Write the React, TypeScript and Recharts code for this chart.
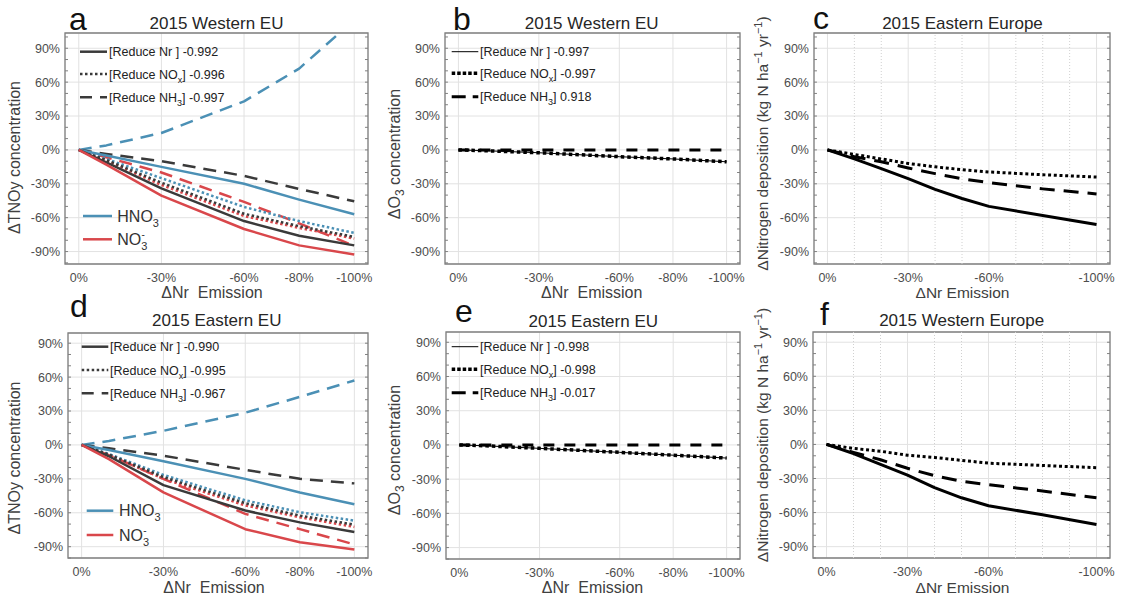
import React from 'react';
import { LineChart, Line, XAxis, YAxis, CartesianGrid, ReferenceLine, ReferenceArea } from 'recharts';

const FONT = '"Liberation Sans", Arial, Helvetica, sans-serif';
const BLUE = '#4b90b5';
const RED = '#d9474b';
const DARK = '#3a3a3a';
const BOX = '#808080';
const TICK = '#4d4d4d';

// emission reduction steps (%), drawn as negative tick labels
const nrSteps = [0, 10, 30, 60, 80, 100];
const depSteps = [0, 10, 20, 30, 40, 50, 60, 80, 100];
const nrTicks = [0, 30, 60, 80, 100];
const depTicks = [0, 30, 60, 100];
const depMinor = [10, 20, 40, 50, 70, 80, 90];
const yTicks = [-90, -60, -30, 0, 30, 60, 90];
const yMinor = [-100, -80, -70, -50, -40, -20, -10, 10, 20, 40, 50, 70, 80, 100];

// a: 2015 Western EU, TNOy / HNO3 / NO3-
const aTnoyNr = [0, -11, -34, -63, -76, -84.5];
const aTnoyNox = [0, -9, -29, -56.5, -67.5, -77];
const aTnoyNh3 = [0, -3.5, -10, -23, -34.5, -45.5];
const aHno3Nr = [0, -5, -15, -30, -44, -57];
const aHno3Nox = [0, -8, -25, -50.5, -63, -73.5];
const aHno3Nh3 = [0, 4, 15, 43, 72, 115];
const aNo3Nr = [0, -13, -40.5, -70, -84.5, -92.5];
const aNo3Nox = [0, -9.5, -31, -58.5, -69, -78.5];
const aNo3Nh3 = [0, -6.5, -20, -46, -65, -85];

// d: 2015 Eastern EU
const dTnoyNr = [0, -10, -35.5, -58, -68.5, -77];
const dTnoyNox = [0, -8.5, -28.5, -51.5, -62.5, -70.5];
const dTnoyNh3 = [0, -3, -9.5, -22, -30, -34];
const dHno3Nr = [0, -4.5, -14.5, -30, -42, -52.5];
const dHno3Nox = [0, -8, -26.5, -49, -59.5, -67];
const dHno3Nh3 = [0, 3.5, 12.5, 28.5, 42.5, 57];
const dNo3Nr = [0, -12.5, -42, -74.5, -86, -92.5];
const dNo3Nox = [0, -9, -30, -53.5, -64, -72.5];
const dNo3Nh3 = [0, -9, -30, -61, -74.5, -88];

// b / e: O3
const bO3Nr = [0, -0.7, -2.5, -6, -8, -10.5];
const bO3Nox = [0, -0.7, -2.5, -6, -8, -10.5];
const bO3Nh3 = [0, 0, 0, 0, 0, 0];
const eO3Nr = [0, -0.8, -3, -6.5, -9, -11.5];
const eO3Nox = [0, -0.8, -3, -6.5, -9, -11.5];
const eO3Nh3 = [0, 0, 0, 0, 0, 0];

// c / f: nitrogen deposition
const cDepNr = [0, -8, -16.5, -25.5, -35, -43, -50, -58, -66];
const cDepNox = [0, -4, -8, -12, -15, -17.5, -19.5, -22, -24];
const cDepNh3 = [0, -6, -10.5, -16, -21, -25.5, -29, -34.5, -39];
const fDepNr = [0, -8, -17.5, -27, -38, -47, -54, -62, -70.5];
const fDepNox = [0, -3.5, -6, -9.5, -11.5, -14, -16.5, -18.5, -20.5];
const fDepNh3 = [0, -7, -13.5, -21, -27.5, -32.5, -35.5, -41, -47];

type Series = { key: string; color: string; width: number; dash?: string };

const rowsOf = (steps: number[], cols: Record<string, number[]>) =>
  steps.map((x, i) => {
    const r: Record<string, number> = { x };
    Object.keys(cols).forEach((k) => (r[k] = cols[k][i]));
    return r;
  });

const SOLID_W = 2.5;
const tnoySeries: Series[] = [
  { key: 'hno3Nh3', color: BLUE, width: SOLID_W, dash: '13 8' },
  { key: 'tnoyNh3', color: DARK, width: SOLID_W, dash: '13 8' },
  { key: 'no3Nh3', color: RED, width: SOLID_W, dash: '13 8' },
  { key: 'hno3Nox', color: BLUE, width: SOLID_W, dash: '2.5 2.5' },
  { key: 'no3Nox', color: RED, width: SOLID_W, dash: '2.5 2.5' },
  { key: 'tnoyNox', color: DARK, width: SOLID_W, dash: '2.5 2.5' },
  { key: 'hno3Nr', color: BLUE, width: SOLID_W },
  { key: 'tnoyNr', color: DARK, width: SOLID_W },
  { key: 'no3Nr', color: RED, width: SOLID_W },
];
const o3Series: Series[] = [
  { key: 'nh3', color: '#000', width: 3, dash: '11 10' },
  { key: 'nox', color: '#000', width: 3.5, dash: '3.5 3' },
  { key: 'nr', color: '#000', width: 1 },
];
const depSeries: Series[] = [
  { key: 'nh3', color: '#000', width: 3, dash: '15 9' },
  { key: 'nox', color: '#000', width: 3, dash: '3 2.7' },
  { key: 'nr', color: '#000', width: 3 },
];

const X_DOMAIN = [-5, 105];
const TICK_LEN = 1.1; // inward box tick length, in x units
const fmtX = (v: number) => (v === 0 ? '0%' : `-${v}%`);
const fmtY = (v: number) => `${v}%`;

type Box = { left: number; top: number; width: number; height: number };

function Panel({ box, yDomain, xTicks, minorX, rows, series }: {
  box: Box; yDomain: number[]; xTicks: number[]; minorX?: number[];
  rows: Record<string, number>[]; series: Series[];
}) {
  const yw = 50;
  const tickStyle = { fontSize: 12.5, fill: TICK, fontFamily: FONT };
  const edgeTicks = [...yTicks, ...yMinor];
  return (
    <div style={{ position: 'absolute', left: box.left - yw, top: box.top - 2 }}>
      <LineChart width={yw + box.width + 22} height={box.height + 2 + 30} data={rows}
        margin={{ top: 2, right: 22, bottom: 0, left: 0 }}>
        <CartesianGrid stroke="#e2e2e2" />
        {(minorX ?? []).map((v) => (
          <ReferenceLine key={v} x={v} stroke="#d0d0d0" strokeDasharray="1 2" />
        ))}
        <XAxis dataKey="x" type="number" domain={X_DOMAIN} ticks={xTicks} tickFormatter={fmtX}
          height={30} tickSize={0} tickMargin={9} tickLine={false} axisLine={false} tick={tickStyle}
          allowDataOverflow />
        <YAxis width={yw} type="number" domain={yDomain} ticks={yTicks} tickFormatter={fmtY}
          tickSize={0} tickMargin={5} tickLine={false} axisLine={false} tick={tickStyle} allowDataOverflow />
        {edgeTicks.map((v) => (
          <ReferenceLine key={`l${v}`} stroke={BOX} strokeWidth={1}
            segment={[{ x: X_DOMAIN[0], y: v }, { x: X_DOMAIN[0] + TICK_LEN, y: v }]} />
        ))}
        {edgeTicks.map((v) => (
          <ReferenceLine key={`r${v}`} stroke={BOX} strokeWidth={1}
            segment={[{ x: X_DOMAIN[1] - TICK_LEN, y: v }, { x: X_DOMAIN[1], y: v }]} />
        ))}
        <ReferenceArea x1={X_DOMAIN[0]} x2={X_DOMAIN[1]} y1={yDomain[0]} y2={yDomain[1]}
          fill="none" fillOpacity={0} stroke={BOX} strokeWidth={1.3} />
        {series.map((s) => (
          <Line key={s.key} type="linear" dataKey={s.key} stroke={s.color}
            strokeWidth={s.width} strokeDasharray={s.dash} strokeLinejoin="round" dot={false}
            activeDot={false} isAnimationActive={false} />
        ))}
      </LineChart>
    </div>
  );
}

const topY = [-101, 103.5];
const botY = [-100, 99];

const boxA = { left: 65, top: 33, width: 303, height: 231 };
const boxB = { left: 445, top: 33, width: 295, height: 231 };
const boxC = { left: 814, top: 33, width: 296, height: 231 };
const boxD = { left: 68, top: 333, width: 300, height: 225 };
const boxE = { left: 446, top: 332, width: 294, height: 227 };
const boxF = { left: 813, top: 332, width: 297, height: 226 };

function CorrLegend({ x0, x1, tx, ys, vals, thinSolid }: {
  x0: number; x1: number; tx: number; ys: number[]; vals: string[]; thinSolid?: boolean;
}) {
  const col = thinSolid ? '#000' : DARK;
  return (
    <g fontSize={12.5} fill="#222">
      <line x1={x0} x2={x1} y1={ys[0]} y2={ys[0]} stroke={col} strokeWidth={thinSolid ? 1 : 2.5} />
      <line x1={x0} x2={x1} y1={ys[1]} y2={ys[1]} stroke={col} strokeWidth={thinSolid ? 3.5 : 2.5}
        strokeDasharray={thinSolid ? '3.5 2' : '2.5 2.5'} />
      <line x1={x0} x2={x1} y1={ys[2]} y2={ys[2]} stroke={col} strokeWidth={thinSolid ? 3 : 2.5}
        strokeDasharray={thinSolid ? '14 7' : '12 8'} />
      <text x={tx} y={ys[0] + 4.5}>[Reduce Nr ] {vals[0]}</text>
      <text x={tx} y={ys[1] + 4.5}>[Reduce NO<tspan dy={4} fontSize={9}>x</tspan>
        <tspan dy={-4}>] {vals[1]}</tspan></text>
      <text x={tx} y={ys[2] + 4.5}>[Reduce NH<tspan dy={4} fontSize={9}>3</tspan>
        <tspan dy={-4}>] {vals[2]}</tspan></text>
    </g>
  );
}

function SpeciesLegend({ x0, x1, tx, y0, y1 }: { x0: number; x1: number; tx: number; y0: number; y1: number }) {
  return (
    <g fontSize={16} fill="#333">
      <line x1={x0} x2={x1} y1={y0} y2={y0} stroke={BLUE} strokeWidth={2.5} />
      <line x1={x0} x2={x1} y1={y1} y2={y1} stroke={RED} strokeWidth={2.5} />
      <text x={tx} y={y0 + 5.7}>HNO<tspan dy={5} fontSize={11}>3</tspan></text>
      <text x={tx} y={y1 + 5.7}>NO<tspan dy={5} fontSize={11}>3</tspan>
        <tspan dx={-6} dy={-12} fontSize={10}>-</tspan></text>
    </g>
  );
}

function YLabel({ x, y, kind, fs = 16 }: { x: number; y: number; kind: 'tnoy' | 'o3' | 'dep'; fs?: number }) {
  return (
    <text x={x} y={y} transform={`rotate(-90 ${x} ${y})`} textAnchor="middle" fontSize={fs} fill="#404040">
      {kind === 'tnoy' && 'ΔTNOy concentration'}
      {kind === 'o3' && <>ΔO<tspan dy={4} fontSize={12}>3</tspan><tspan dy={-4}> concentration</tspan></>}
      {kind === 'dep' && <>ΔNitrogen deposition (kg N ha<tspan dy={-6} fontSize={11}>−1</tspan>
        <tspan dy={6}> yr</tspan><tspan dy={-6} fontSize={11}>−1</tspan><tspan dy={6}>)</tspan></>}
    </text>
  );
}

function Overlay() {
  const xLab = (x: number, y: number, t: string, fs = 16) => (
    <text x={x} y={y} textAnchor="middle" fontSize={fs} fill="#404040" style={{ whiteSpace: 'pre' }}>{t}</text>
  );
  const title = (x: number, y: number, t: string) => (
    <text x={x} y={y} textAnchor="middle" fontSize={17} fill="#262626">{t}</text>
  );
  const letter = (x: number, y: number, t: string) => (
    <text x={x} y={y} fontSize={32} fill="#111">{t}</text>
  );
  return (
    <svg width={1121} height={601} style={{ position: 'absolute', left: 0, top: 0, pointerEvents: 'none' }}
      fontFamily={FONT}>
      {letter(69, 29.5, 'a')}
      {letter(453, 29.5, 'b')}
      {letter(813, 28.5, 'c')}
      {letter(70, 317, 'd')}
      {letter(455, 322, 'e')}
      {letter(820, 325, 'f')}

      {title(216.5, 29.3, '2015 Western EU')}
      {title(591.7, 29.3, '2015 Western EU')}
      {title(962.5, 28.5, '2015 Eastern Europe')}
      {title(216.7, 326, '2015 Eastern EU')}
      {title(593.3, 327, '2015 Eastern EU')}
      {title(961.7, 326, '2015 Western Europe')}

      {xLab(212, 297.7, 'ΔNr  Emission')}
      {xLab(591.7, 297.7, 'ΔNr  Emission')}
      {xLab(962.5, 297.7, 'ΔNr Emission', 15.5)}
      {xLab(214, 593.3, 'ΔNr  Emission')}
      {xLab(592.5, 593.3, 'ΔNr  Emission')}
      {xLab(962.5, 593.3, 'ΔNr Emission', 15.5)}

      <YLabel x={20} y={157.5} kind="tnoy" />
      <YLabel x={400} y={154} kind="o3" />
      <YLabel x={768} y={143.5} kind="dep" fs={15.5} />
      <YLabel x={20} y={458} kind="tnoy" />
      <YLabel x={400} y={450} kind="o3" />
      <YLabel x={768} y={435} kind="dep" fs={15.5} />

      <CorrLegend x0={80} x1={107} tx={109} ys={[51.7, 74, 97.3]} vals={['-0.992', '-0.996', '-0.997']} />
      <CorrLegend x0={81.7} x1={108.3} tx={110} ys={[346.7, 370, 393.3]} vals={['-0.990', '-0.995', '-0.967']} />
      <CorrLegend x0={451.7} x1={478.3} tx={480} ys={[51.7, 73.3, 96.7]} vals={['-0.997', '-0.997', '0.918']} thinSolid />
      <CorrLegend x0={451.7} x1={478.3} tx={480} ys={[346.7, 369.3, 392.7]} vals={['-0.998', '-0.998', '-0.017']} thinSolid />

      <SpeciesLegend x0={83} x1={112} tx={117.3} y0={216} y1={239.3} />
      <SpeciesLegend x0={86.7} x1={113.3} tx={119} y0={510.7} y1={535} />
    </svg>
  );
}

const rowsA = rowsOf(nrSteps, {
  tnoyNr: aTnoyNr, tnoyNox: aTnoyNox, tnoyNh3: aTnoyNh3, hno3Nr: aHno3Nr, hno3Nox: aHno3Nox,
  hno3Nh3: aHno3Nh3, no3Nr: aNo3Nr, no3Nox: aNo3Nox, no3Nh3: aNo3Nh3,
});
const rowsD = rowsOf(nrSteps, {
  tnoyNr: dTnoyNr, tnoyNox: dTnoyNox, tnoyNh3: dTnoyNh3, hno3Nr: dHno3Nr, hno3Nox: dHno3Nox,
  hno3Nh3: dHno3Nh3, no3Nr: dNo3Nr, no3Nox: dNo3Nox, no3Nh3: dNo3Nh3,
});
const rowsB = rowsOf(nrSteps, { nr: bO3Nr, nox: bO3Nox, nh3: bO3Nh3 });
const rowsE = rowsOf(nrSteps, { nr: eO3Nr, nox: eO3Nox, nh3: eO3Nh3 });
const rowsC = rowsOf(depSteps, { nr: cDepNr, nox: cDepNox, nh3: cDepNh3 });
const rowsF = rowsOf(depSteps, { nr: fDepNr, nox: fDepNox, nh3: fDepNh3 });

export default function App() {
  return (
    <div style={{ position: 'absolute', left: 0, top: 0, width: 1121, height: 601, background: '#fff', fontFamily: FONT }}>
      <Panel box={boxA} yDomain={topY} xTicks={nrTicks} rows={rowsA} series={tnoySeries} />
      <Panel box={boxB} yDomain={topY} xTicks={nrTicks} rows={rowsB} series={o3Series} />
      <Panel box={boxC} yDomain={topY} xTicks={depTicks} minorX={depMinor} rows={rowsC} series={depSeries} />
      <Panel box={boxD} yDomain={botY} xTicks={nrTicks} rows={rowsD} series={tnoySeries} />
      <Panel box={boxE} yDomain={botY} xTicks={nrTicks} rows={rowsE} series={o3Series} />
      <Panel box={boxF} yDomain={botY} xTicks={depTicks} minorX={depMinor} rows={rowsF} series={depSeries} />
      <Overlay />
    </div>
  );
}
